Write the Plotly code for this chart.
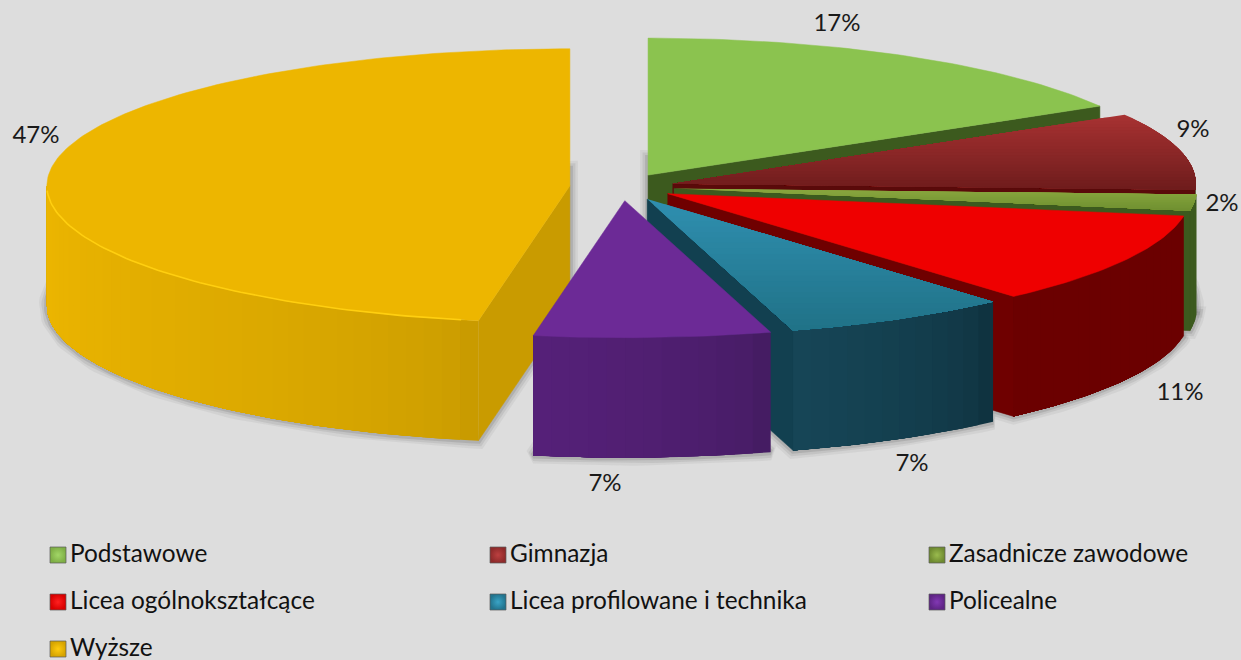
import math
import plotly.graph_objects as go

CATEGORIES = ["Podstawowe", "Gimnazja", "Zasadnicze zawodowe", "Licea ogólnokształcące",
              "Licea profilowane i technika", "Policealne", "Wyższe"]
VALUES = [16.6, 9.1, 1.9, 10.9, 7.0, 7.3, 47.2]

# style
BG = "#DDDDDD"
TOP_GRAD = [("#8BC34F", "#8BC34F"), ("#A83232", "#6E1C1C"), ("#8AA83F", "#6F8F30"), ("#EF0000", "#EF0000"),
            ("#2F8FB0", "#207287"), ("#6C2A96", "#6C2A96"), ("#EDB600", "#EDB600")]
FACE = ["#3C5A1E", "#5A0A0A", "#3C5A1E", "#6F0000", "#124050", "#532075", "#C99B00"]
WALL_GRAD = [("#3C5A1E", "#3C5A1E"), ("#3C5A1E", "#3C5A1E"), ("#3C5A1E", "#3C5A1E"), ("#6B0000", "#6B0000"),
             ("#0F3340", "#164556"), ("#451C63", "#552078"), ("#C99B00", "#EDB600")]
LEGEND_COL = ["#7FAF46", "#8E2A2A", "#6E8A30", "#D80000", "#22748E", "#5E2484", "#D6A400"]
LEGEND_GLOW = ["#A2D667", "#BC4040", "#9ABB4E", "#FF2020", "#3AA4C6", "#8238B4", "#FFCB10"]
LABEL_POS = [(837, 25), (1193, 131), (1222, 205), (1180, 394), (912, 465), (605, 485), (36, 137)]
LEGEND_POS = [(58, 556), (498, 556), (937, 556), (58, 603), (498, 603), (937, 603), (58, 650)]
CX, CY, R, B, H, PULL = 622, 187, 523, 137, 120, 0.1
FONT = "Lato"
TEXT_GAP = 12


def hex_rgb(c):
    return tuple(int(c[i:i + 2], 16) for i in (1, 3, 5))


def mix(a, b, t):
    a, b = hex_rgb(a), hex_rgb(b)
    return "rgb(%d,%d,%d)" % tuple(round(a[i] + (b[i] - a[i]) * t) for i in range(3))


def pt(deg, apex, dy=0.0):
    r = math.radians(deg)
    return apex[0] + R * math.sin(r), apex[1] - B * math.cos(r) + dy


def arc(t0, t1, apex, dy=0.0, step=1.0):
    n = max(2, int(abs(t1 - t0) / step) + 1)
    return [pt(t0 + (t1 - t0) * i / (n - 1), apex, dy) for i in range(n)]


def clip_band(poly, y0, y1):
    def clip(p, keep, cross):
        out = []
        for i in range(len(p)):
            a, b = p[i], p[(i + 1) % len(p)]
            if keep(a):
                out.append(a)
            if keep(a) != keep(b):
                s = (cross - a[1]) / (b[1] - a[1])
                out.append((a[0] + (b[0] - a[0]) * s, cross))
        return out
    p = clip(poly, lambda q: q[1] >= y0, y0)
    return clip(p, lambda q: q[1] <= y1, y1) if p else p


fig = go.Figure()


def poly(points, color, lw=0.0):
    xs = [p[0] for p in points] + [points[0][0]]
    ys = [p[1] for p in points] + [points[0][1]]
    fig.add_trace(go.Scatter(x=xs, y=ys, mode="lines", fill="toself", fillcolor=color,
                             line=dict(color=color, width=lw), hoverinfo="skip", showlegend=False))


# wedge angles
total = sum(VALUES)
angles, c = [], 0.0
for v in VALUES:
    angles.append((c * 360 / total, (c + v) * 360 / total))
    c += v
apexes = []
for a0, a1 in angles:
    m = math.radians((a0 + a1) / 2)
    apexes.append((CX + PULL * R * math.sin(m), CY - PULL * B * math.cos(m)))

# soft shadows beneath each wedge
for (a0, a1), ap in zip(angles, apexes):
    base = [(ap[0], ap[1] + H)] + arc(a0, a1, ap, H)
    xs = [p[0] for p in base] + [base[0][0]]
    ys = [p[1] for p in base] + [base[0][1]]
    for w, al in ((16, 0.08), (11, 0.12), (6, 0.18)):
        fig.add_trace(go.Scatter(x=xs, y=ys, mode="lines", line=dict(color=f"rgba(90,90,90,{al})", width=w),
                                 hoverinfo="skip", showlegend=False))

# wedges, back to front
for i in [0, 1, 2, 3, 4, 6, 5]:
    a0, a1 = angles[i]
    ap = apexes[i]
    # visible radial faces
    if math.sin(math.radians(a1)) > 0.01:
        e = pt(a1, ap)
        poly([ap, e, (e[0], e[1] + H), (ap[0], ap[1] + H)], FACE[i], 0.5)
    if math.sin(math.radians(a0)) < -0.01:
        e = pt(a0, ap)
        poly([ap, e, (e[0], e[1] + H), (ap[0], ap[1] + H)], FACE[i], 0.5)
    # outer wall as shaded strips on its front half, each overlapping the next
    w0, w1 = max(a0, 90), min(a1, 270)
    if w1 > w0:
        n = max(1, int((w1 - w0) / 2))
        for k in range(n):
            s0 = w0 + (w1 - w0) * k / n
            top = arc(s0, w1, ap)
            low = arc(w1, s0, ap, H)
            poly(top + low, mix(WALL_GRAD[i][0], WALL_GRAD[i][1], (k / max(1, n - 1)) ** 0.6))
    # top surface, painted in bands that each reach to the bottom edge
    surface = [ap] + arc(a0, a1, ap)
    c0, c1 = TOP_GRAD[i]
    if c0 == c1:
        poly(surface, c0, 0.5)
    else:
        ys = [p[1] for p in surface]
        lo, hi = min(ys), max(ys)
        bands = 24
        for k in range(bands):
            part = clip_band(surface, lo + (hi - lo) * k / bands, hi)
            if len(part) > 2:
                poly(part, mix(c0, c1, (k + 0.5) / bands))

# bright rim on the largest wedge
rim = arc(max(angles[6][0], 192), 268, apexes[6])
fig.add_trace(go.Scatter(x=[p[0] for p in rim], y=[p[1] for p in rim], mode="lines",
                         line=dict(color="#FFCF10", width=1.6), hoverinfo="skip", showlegend=False))

# percentage labels
fig.add_trace(go.Scatter(x=[p[0] for p in LABEL_POS], y=[p[1] for p in LABEL_POS], mode="text",
                         text=[f"{round(v)}%" for v in VALUES], textposition="middle center",
                         textfont=dict(family=FONT, size=24, color="#1A1A1A"),
                         hoverinfo="skip", showlegend=False))

# legend
for name, col, glow, (x, y) in zip(CATEGORIES, LEGEND_COL, LEGEND_GLOW, LEGEND_POS):
    fig.add_trace(go.Scatter(x=[x], y=[y - 1], mode="markers",
                             marker=dict(symbol="square", size=16, color=col,
                                         gradient=dict(type="radial", color=glow),
                                         line=dict(color="rgba(90,90,90,0.7)", width=1)),
                             hoverinfo="skip", showlegend=False))
    fig.add_trace(go.Scatter(x=[x + TEXT_GAP], y=[y], mode="text", text=[name], textposition="middle right",
                             textfont=dict(family=FONT, size=24.4, color="#111111"),
                             hoverinfo="skip", showlegend=False))

fig.update_layout(width=1241, height=660, margin=dict(l=0, r=0, t=0, b=0), paper_bgcolor=BG, plot_bgcolor=BG,
                  showlegend=False,
                  xaxis=dict(range=[0, 1241], visible=False, fixedrange=True),
                  yaxis=dict(range=[660, 0], visible=False, fixedrange=True))
fig.write_html("out.html", config={"displayModeBar": False},
               post_script="document.body.style.margin='0';document.body.style.background='#DDDDDD';")
